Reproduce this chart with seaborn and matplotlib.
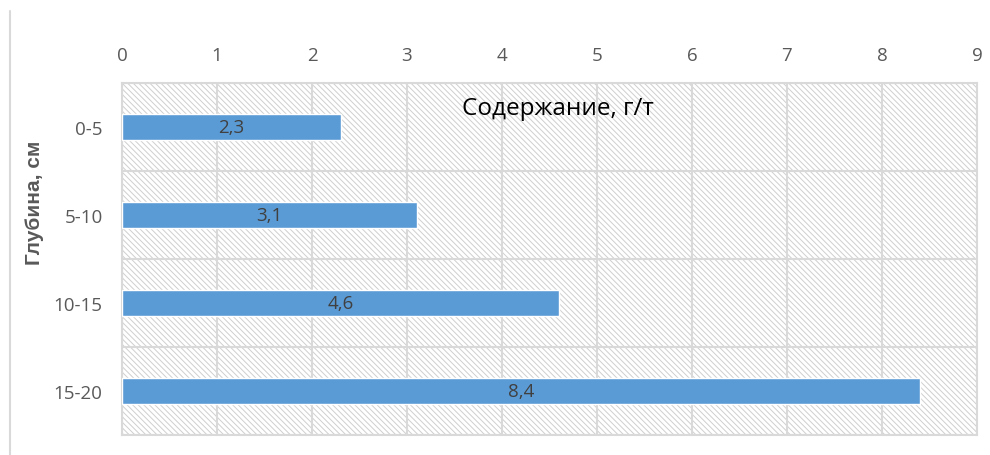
import matplotlib
matplotlib.use("Agg")
import matplotlib.pyplot as plt
import seaborn as sns
import pandas as pd
from matplotlib.patches import Rectangle
from matplotlib.lines import Line2D

depths = ["0-5", "5-10", "10-15", "15-20"]
values = [2.3, 3.1, 4.6, 8.4]
value_labels = ["2,3", "3,1", "4,6", "8,4"]
x_ticks = [0, 1, 2, 3, 4, 5, 6, 7, 8, 9]
title = "Содержание, г/т"
ylabel = "Глубина, см"

sns.set_style("white")
plt.rcParams['font.family'] = ['Open Sans', 'DejaVu Sans']
plt.rcParams['hatch.linewidth'] = 0.7
plt.rcParams['hatch.color'] = '#cfcfcf'

df = pd.DataFrame({"depth": depths, "value": values})

fig = plt.figure(figsize=(9.9, 4.56), dpi=100)
ax = fig.add_axes([122/990, 1-436/456, (977-122)/990, (436-84)/456])

bg = Rectangle((0, 0), 1, 1, transform=ax.transAxes, facecolor='white',
               edgecolor='#cfcfcf', hatch='\\' * 6, linewidth=0, zorder=0)
ax.add_patch(bg)

sns.barplot(data=df, x="value", y="depth", orient="h", color="#5B9BD5",
            width=0.3, saturation=1, ax=ax, zorder=3)

ax.set_xlim(0, 9)
ax.set_ylim(3.5, -0.5)
ax.xaxis.tick_top()
ax.set_xticks(x_ticks)
ax.set_xticklabels([str(t) for t in x_ticks], fontsize=13.5, color='#595959')
ax.tick_params(axis='x', length=0, pad=14)
ax.tick_params(axis='y', which='major', length=0, pad=14, labelsize=13.5, labelcolor='#595959')
ax.set_yticks(range(len(depths)))
ax.set_yticks([-0.5, 0.5, 1.5, 2.5, 3.5], minor=True)
ax.tick_params(axis='y', which='minor', length=7, width=1.5, color='#d9d9d9')
ax.grid(True, axis='x', color='#d9d9d9', linewidth=1.5, zorder=1)
ax.grid(True, axis='y', which='minor', color='#d9d9d9', linewidth=1.5, zorder=1)
ax.set_axisbelow(True)
for s in ax.spines.values():
    s.set_color('#d9d9d9')
    s.set_linewidth(1.5)
ax.set_xlabel("")
ax.set_ylabel("")

for i, (v, lab) in enumerate(zip(values, value_labels)):
    ax.text(v / 2, i, lab, ha='center', va='center', fontsize=13.5, color='#404040', zorder=5)

fig.text(558/990, 1-109/456, title, ha='center', va='center', fontsize=17.5, color='black')
fig.text(35/990, 1-203/456, ylabel, ha='center', va='center', rotation=90,
         fontsize=15, fontweight='bold', color='#595959',
         family=['Liberation Sans Narrow', 'Liberation Sans', 'DejaVu Sans'])

fig.add_artist(Line2D([10/990, 10/990], [0, 1-12/456], transform=fig.transFigure,
                      color='#d9d9d9', linewidth=1.5))

fig.savefig("out.png", dpi=100)
